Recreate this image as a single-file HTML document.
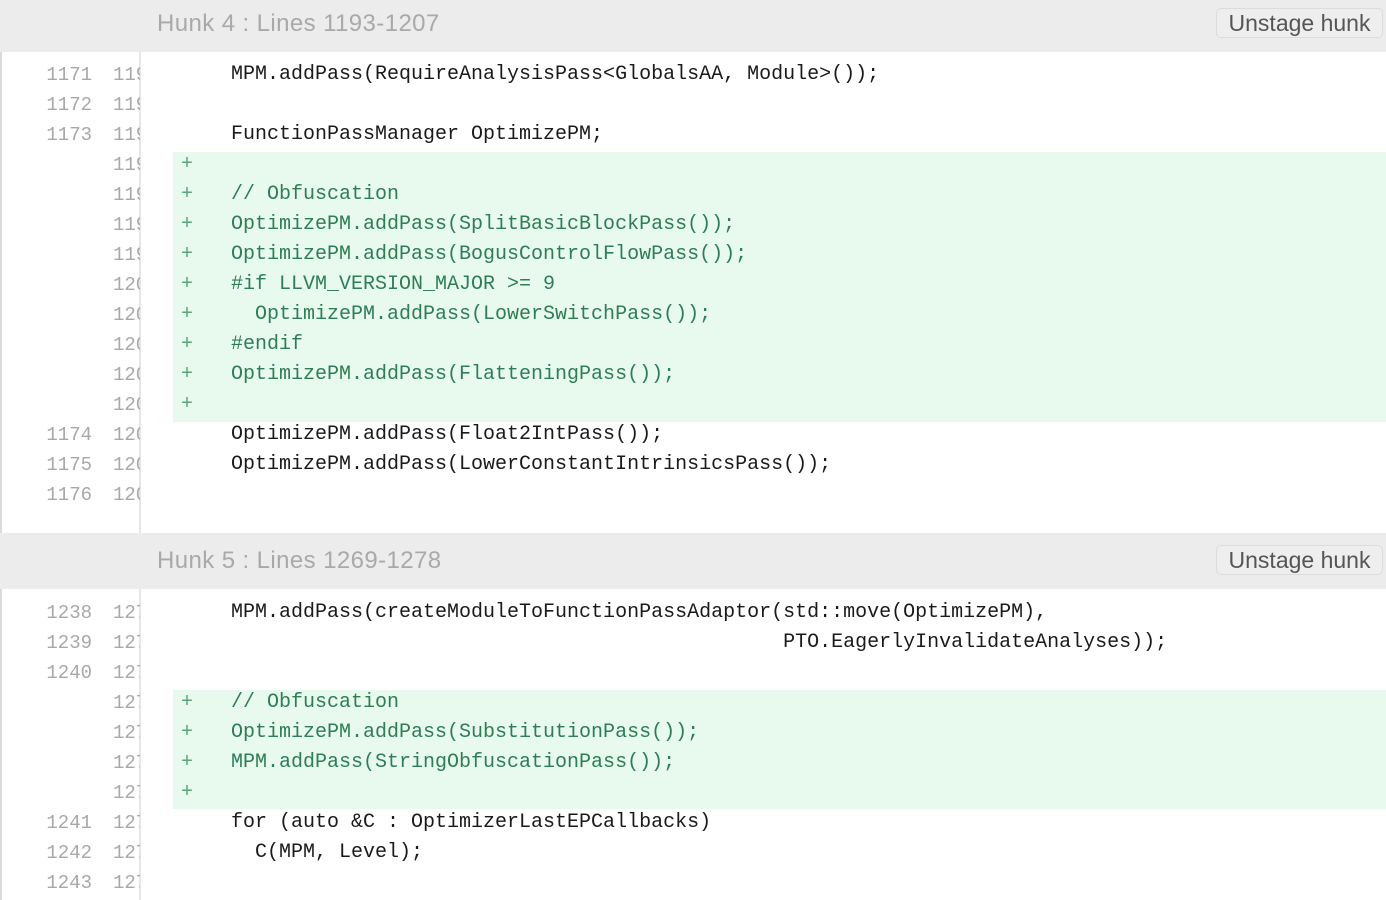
<!DOCTYPE html>
<html><head><style>
body{margin:0;width:1386px;height:900px;overflow:hidden;background:#fff;position:relative;font-family:"Liberation Mono",monospace;}
.hdr{position:absolute;left:0;width:1386px;background:#ececec;}
.ht{position:absolute;left:157px;font-family:"Liberation Sans",sans-serif;font-size:24px;letter-spacing:0.4px;color:#a9a9a9;}
.btn{position:absolute;left:1216px;width:167px;height:30px;border:1px solid #dcdcdc;border-radius:5px;background:#eeeeee;font-family:"Liberation Sans",sans-serif;font-size:23px;color:#555;text-align:center;line-height:28px;box-sizing:border-box;}
.g{position:absolute;left:173px;width:1213px;background:#e8faee;}
.r{position:absolute;height:30px;line-height:30px;font-size:20px;white-space:pre;}
.o{left:0;width:92px;text-align:right;color:#a8a8a8;font-size:19px;}
.n{left:113px;width:27px;overflow:hidden;color:#a8a8a8;font-size:19px;}
.p{left:181px;color:#5aa57a;}
.c{left:231px;color:#1a1a1a;}
.a{color:#2e7d55;}
</style></head><body>
<div style="position:absolute;left:0;top:0;width:2px;height:900px;background:#dcdcdc"></div>
<div style="position:absolute;left:139px;top:0;width:2px;height:900px;background:#e6e6e6"></div>
<div class="hdr" style="top:0;height:52px"></div>
<div class="ht" style="top:10px">Hunk 4 : Lines 1193-1207</div>
<div class="btn" style="top:8px">Unstage hunk</div>
<div class="hdr" style="top:533px;height:56px"></div>
<div class="ht" style="top:547px">Hunk 5 : Lines 1269-1278</div>
<div class="btn" style="top:545px">Unstage hunk</div>
<div class="g" style="top:152px;height:270px"></div>
<div class="g" style="top:690px;height:119px"></div>

<div class="r o" style="top:60px">1171</div><div class="r n" style="top:60px">119</div><div class="r c" style="top:60px">MPM.addPass(RequireAnalysisPass&lt;GlobalsAA, Module&gt;());</div>
<div class="r o" style="top:90px">1172</div><div class="r n" style="top:90px">119</div>
<div class="r o" style="top:120px">1173</div><div class="r n" style="top:120px">119</div><div class="r c" style="top:120px">FunctionPassManager OptimizePM;</div>
<div class="r n" style="top:150px">119</div><div class="r p" style="top:150px">+</div>
<div class="r n" style="top:180px">119</div><div class="r p" style="top:180px">+</div><div class="r c a" style="top:180px">// Obfuscation</div>
<div class="r n" style="top:210px">119</div><div class="r p" style="top:210px">+</div><div class="r c a" style="top:210px">OptimizePM.addPass(SplitBasicBlockPass());</div>
<div class="r n" style="top:240px">119</div><div class="r p" style="top:240px">+</div><div class="r c a" style="top:240px">OptimizePM.addPass(BogusControlFlowPass());</div>
<div class="r n" style="top:270px">120</div><div class="r p" style="top:270px">+</div><div class="r c a" style="top:270px">#if LLVM_VERSION_MAJOR &gt;= 9</div>
<div class="r n" style="top:300px">120</div><div class="r p" style="top:300px">+</div><div class="r c a" style="top:300px">  OptimizePM.addPass(LowerSwitchPass());</div>
<div class="r n" style="top:330px">120</div><div class="r p" style="top:330px">+</div><div class="r c a" style="top:330px">#endif</div>
<div class="r n" style="top:360px">120</div><div class="r p" style="top:360px">+</div><div class="r c a" style="top:360px">OptimizePM.addPass(FlatteningPass());</div>
<div class="r n" style="top:390px">120</div><div class="r p" style="top:390px">+</div>
<div class="r o" style="top:420px">1174</div><div class="r n" style="top:420px">120</div><div class="r c" style="top:420px">OptimizePM.addPass(Float2IntPass());</div>
<div class="r o" style="top:450px">1175</div><div class="r n" style="top:450px">120</div><div class="r c" style="top:450px">OptimizePM.addPass(LowerConstantIntrinsicsPass());</div>
<div class="r o" style="top:480px">1176</div><div class="r n" style="top:480px">120</div>

<div class="r o" style="top:598px">1238</div><div class="r n" style="top:598px">127</div><div class="r c" style="top:598px">MPM.addPass(createModuleToFunctionPassAdaptor(std::move(OptimizePM),</div>
<div class="r o" style="top:628px">1239</div><div class="r n" style="top:628px">127</div><div class="r c" style="top:628px">                                              PTO.EagerlyInvalidateAnalyses));</div>
<div class="r o" style="top:658px">1240</div><div class="r n" style="top:658px">127</div>
<div class="r n" style="top:688px">127</div><div class="r p" style="top:688px">+</div><div class="r c a" style="top:688px">// Obfuscation</div>
<div class="r n" style="top:718px">127</div><div class="r p" style="top:718px">+</div><div class="r c a" style="top:718px">OptimizePM.addPass(SubstitutionPass());</div>
<div class="r n" style="top:748px">127</div><div class="r p" style="top:748px">+</div><div class="r c a" style="top:748px">MPM.addPass(StringObfuscationPass());</div>
<div class="r n" style="top:778px">127</div><div class="r p" style="top:778px">+</div>
<div class="r o" style="top:808px">1241</div><div class="r n" style="top:808px">127</div><div class="r c" style="top:808px">for (auto &amp;C : OptimizerLastEPCallbacks)</div>
<div class="r o" style="top:838px">1242</div><div class="r n" style="top:838px">127</div><div class="r c" style="top:838px">  C(MPM, Level);</div>
<div class="r o" style="top:868px">1243</div><div class="r n" style="top:868px">127</div>
</body></html>
